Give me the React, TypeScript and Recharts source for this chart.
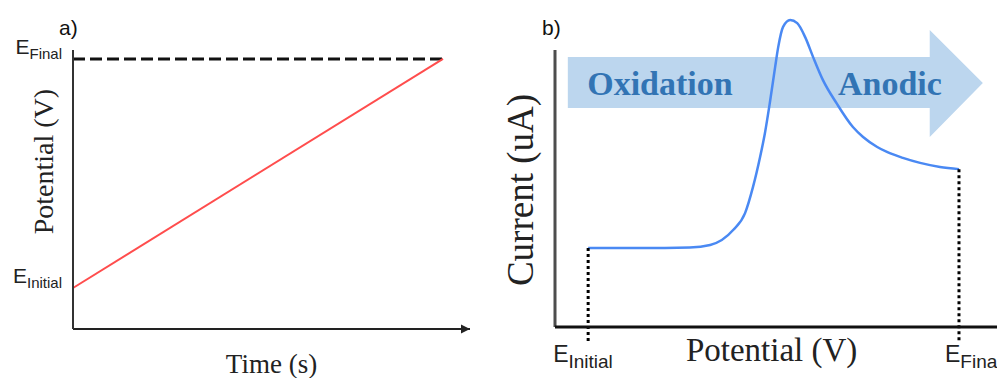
import React from 'react';
import { LineChart, Line, XAxis, YAxis, ReferenceLine, ReferenceArea } from 'recharts';

// ---------- Panel a: linear potential sweep vs time ----------
const sweepTimes = [0, 9.32];
const sweepPotentials = [1.47, 9.68];
const sweepTickLabels = ['Initial', 'Final'];

// ---------- Panel b: linear sweep voltammogram ----------
const voltPotentials = [
  0.75, 1.92, 3.05, 3.51, 4.03, 4.3, 4.48, 4.64, 4.75, 4.86, 4.98, 5.05, 5.16, 5.32,
  5.48, 5.66, 5.84, 6.06, 6.38, 6.74, 6.97, 7.29, 7.51, 7.87, 8.26, 8.71, 9.14,
];
const voltCurrents = [
  2.53, 2.53, 2.55, 2.63, 3.11, 3.65, 4.49, 5.45, 6.22, 7.18, 8.33, 8.97, 9.62, 9.84,
  9.74, 9.29, 8.65, 7.92, 7.15, 6.41, 6.09, 5.77, 5.61, 5.42, 5.26, 5.13, 5.06,
];
const voltTickLabels = ['Initial', 'Final'];
const currentAxisTop = 8.88;
const dottedBottom = -0.48;
const arrowXRange = [0.29, 9.68];
const arrowYRange = [6.09, 9.52];
const arrowWords = ['Oxidation', 'Anodic'];

const SANS = '"Liberation Sans", Arial, sans-serif';
const SERIF = '"Liberation Serif", "Times New Roman", serif';

const sweepData = sweepTimes.map((t, i) => ({
  t,
  ramp: sweepPotentials[i],
  final: sweepPotentials[sweepPotentials.length - 1],
}));

const voltData = voltPotentials.map((v, i) => ({ v, cur: voltCurrents[i] }));
const voltTickValues = [voltPotentials[0], voltPotentials[voltPotentials.length - 1]];

function SweepTick(props: any) {
  const { x, y, index } = props;
  return (
    <text x={x} y={y - 5} textAnchor="end" fill="#222" fontFamily={SANS}>
      <tspan fontSize={21}>E</tspan>
      <tspan fontSize={15} dy={5}>{sweepTickLabels[index]}</tspan>
    </text>
  );
}

function VoltTick(props: any) {
  const { x, y, index } = props;
  const shift = index === 0 ? -35 : -14;
  return (
    <text x={x + shift} y={y + 35} textAnchor="start" fill="#222" fontFamily={SANS}>
      <tspan fontSize={23}>E</tspan>
      <tspan fontSize={19} dy={6}>{voltTickLabels[index]}</tspan>
    </text>
  );
}

function TimeLabel(props: any) {
  const { x, y, width } = props.viewBox;
  const end = x + width;
  return (
    <g>
      <polygon points={`${end},${y} ${end - 9},${y - 4.5} ${end - 9},${y + 4.5}`} fill="#222" />
      <text x={x + width / 2} y={y + 44} textAnchor="middle" fontFamily={SERIF} fontSize={27} fill="#222">
        Time (s)
      </text>
    </g>
  );
}

function PotentialALabel(props: any) {
  const { x, y, height } = props.viewBox;
  const cx = x + 40;
  const cy = y + height * 0.4;
  return (
    <text x={cx} y={cy} transform={`rotate(-90 ${cx} ${cy})`} textAnchor="middle" fontFamily={SERIF} fontSize={28} fill="#222">
      Potential (V)
    </text>
  );
}

function PotentialBLabel(props: any) {
  const { x, y, width } = props.viewBox;
  return (
    <text x={x + width * 0.49} y={y + 34} textAnchor="middle" fontFamily={SERIF} fontSize={33} fill="#222">
      Potential (V)
    </text>
  );
}

function CurrentLabel(props: any) {
  const { x, y, height } = props.viewBox;
  const cx = x + 38;
  const cy = y + height * 0.561;
  return (
    <text x={cx} y={cy} transform={`rotate(-90 ${cx} ${cy})`} textAnchor="middle" fontFamily={SERIF} fontSize={37} fill="#222">
      Current (uA)
    </text>
  );
}

function ArrowShape(props: any) {
  const { x, y, width: w, height: h } = props;
  const bt = y + 0.252 * h;
  const bb = y + 0.729 * h;
  const hx = x + 0.872 * w;
  const pts = [
    [x, bt], [hx, bt], [hx, y], [x + w, y + 0.495 * h], [hx, y + h], [hx, bb], [x, bb],
  ].map((p) => p.join(',')).join(' ');
  const base = y + 0.607 * h;
  return (
    <g>
      <polygon points={pts} fill="#bcd6ee" />
      <text x={x + 0.222 * w} y={base} textAnchor="middle" fontFamily={SERIF} fontWeight="bold" fontSize={34} fill="#3274b4">
        {arrowWords[0]}
      </text>
      <text x={x + 0.776 * w} y={base} textAnchor="middle" fontFamily={SERIF} fontWeight="bold" fontSize={34} fill="#3274b4">
        {arrowWords[1]}
      </text>
    </g>
  );
}

const panelLetter: React.CSSProperties = {
  position: 'absolute',
  top: 17,
  fontFamily: SANS,
  fontSize: 21,
  lineHeight: '21px',
  color: '#111',
};

export default function App() {
  const vFirst = voltTickValues[0];
  const vLast = voltTickValues[1];
  const cFirst = voltCurrents[0];
  const cLast = voltCurrents[voltCurrents.length - 1];
  return (
    <div style={{ position: 'absolute', left: 0, top: 0, width: 997, height: 378, background: '#fff', overflow: 'hidden' }}>
      <div style={{ position: 'absolute', left: 0, top: 0 }}>
        <LineChart width={490} height={378} data={sweepData} margin={{ top: 50, right: 20, bottom: 0, left: 13 }}>
          <XAxis
            dataKey="t"
            type="number"
            domain={[0, 10]}
            tick={false}
            tickLine={false}
            axisLine={{ stroke: '#222', strokeWidth: 2 }}
            height={49}
            label={{ content: TimeLabel }}
          />
          <YAxis
            type="number"
            domain={[0, 10]}
            ticks={sweepPotentials}
            interval={0}
            tick={(p: any) => <SweepTick {...p} />}
            tickLine={false}
            tickSize={0}
            tickMargin={11}
            axisLine={{ stroke: '#333', strokeWidth: 2 }}
            width={60}
            label={{ content: PotentialALabel }}
          />
          <Line type="linear" dataKey="final" stroke="#111" strokeWidth={3} strokeDasharray="12 5" dot={false} isAnimationActive={false} />
          <Line type="linear" dataKey="ramp" stroke="#ff4d4d" strokeWidth={2} dot={false} isAnimationActive={false} />
        </LineChart>
      </div>
      <div style={{ position: 'absolute', left: 490, top: 0 }}>
        <LineChart width={507} height={378} data={voltData} margin={{ top: 15, right: 0, bottom: 0, left: 5 }}>
          <XAxis
            dataKey="v"
            type="number"
            domain={[0, 10]}
            ticks={voltTickValues}
            interval={0}
            tick={(p: any) => <VoltTick {...p} />}
            tickLine={false}
            tickSize={0}
            tickMargin={0}
            axisLine={{ stroke: '#111', strokeWidth: 3 }}
            height={51}
            label={{ content: PotentialBLabel }}
          />
          <YAxis type="number" domain={[0, 10]} width={60} axisLine={false} tick={false} tickLine={false} label={{ content: CurrentLabel }} />
          <ReferenceArea x1={arrowXRange[0]} x2={arrowXRange[1]} y1={arrowYRange[0]} y2={arrowYRange[1]} shape={(p: any) => <ArrowShape {...p} />} />
          <ReferenceLine segment={[{ x: 0, y: 0 }, { x: 0, y: currentAxisTop }]} stroke="#4d4d4d" strokeWidth={3} ifOverflow="visible" />
          <Line type="monotone" dataKey="cur" stroke="#4a89f3" strokeWidth={2.5} dot={false} isAnimationActive={false} />
          <ReferenceLine segment={[{ x: vFirst, y: cFirst }, { x: vFirst, y: dottedBottom }]} stroke="#000" strokeWidth={3} strokeDasharray="3 3" ifOverflow="visible" />
          <ReferenceLine segment={[{ x: vLast, y: cLast }, { x: vLast, y: dottedBottom }]} stroke="#000" strokeWidth={3} strokeDasharray="3 3" ifOverflow="visible" />
        </LineChart>
      </div>
      <div style={{ ...panelLetter, left: 59 }}>a)</div>
      <div style={{ ...panelLetter, left: 542 }}>b)</div>
    </div>
  );
}
